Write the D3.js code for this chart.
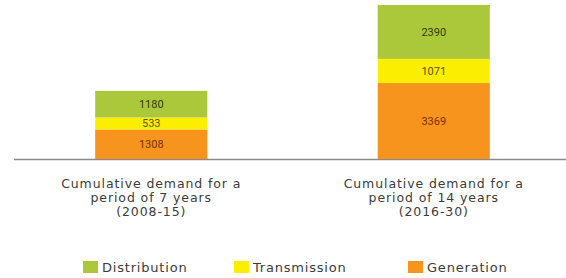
<!DOCTYPE html>
<html>
<head>
<meta charset="UTF-8">
<script src="https://cdn.jsdelivr.net/npm/d3@7"></script>
<style>
  body { margin: 0; background: #fff; }
  text { font-family: "DejaVu Sans", Roboto, sans-serif; }
  .cat { font-size: 12.5px; fill: #3c3c3c; letter-spacing: 0.9px; }
  .val { font-size: 11px; font-family: Roboto, sans-serif; }
  .leg { font-size: 13px; fill: #3c3c3c; letter-spacing: 0.8px; }
</style>
</head>
<body>
<div id="chart"></div>
<script>
// data
var categories = ["7yrs", "14yrs"];
var catLabels = [
  ["Cumulative demand for a", "period of 7 years", "(2008-15)"],
  ["Cumulative demand for a", "period of 14 years", "(2016-30)"]
];
var seriesNames = ["Generation", "Transmission", "Distribution"];
var generation = [1308, 3369];
var transmission = [533, 1071];
var distribution = [1180, 2390];
var legendOrder = ["Distribution", "Transmission", "Generation"];

var colors = { Generation: "#f7941d", Transmission: "#fcee00", Distribution: "#abc83a" };
var textColors = { Generation: "#7a2e05", Transmission: "#5c5200", Distribution: "#2f3d0c" };

var width = 566, height = 278;
var baseY = 159;

var rows = categories.map(function(c, i){
  return { cat: c, Generation: generation[i], Transmission: transmission[i], Distribution: distribution[i] };
});
var stacked = d3.stack().keys(seriesNames)(rows);

var x = d3.scaleBand().domain(categories).range([10, 575]).paddingInner(0.603).paddingOuter(0.3015);
var y = d3.scaleLinear()
  .domain([0, d3.max(rows, function(d){ return d.Generation + d.Transmission + d.Distribution; })])
  .range([baseY, 5]);

var svg = d3.select("#chart").append("svg").attr("width", width).attr("height", height);

// baseline
svg.append("line")
  .attr("x1", 14).attr("x2", width).attr("y1", baseY + 0.5).attr("y2", baseY + 0.5)
  .attr("stroke", "#8a8a8a").attr("stroke-width", 1.5);

var layer = svg.selectAll("g.layer").data(stacked).enter().append("g").attr("class", "layer");

layer.selectAll("rect").data(function(d){ return d.map(function(p){ p.key = d.key; return p; }); })
  .enter().append("rect")
  .attr("x", function(d){ return x(d.data.cat); })
  .attr("width", x.bandwidth())
  .attr("y", function(d){ return y(d[1]); })
  .attr("height", function(d){ return y(d[0]) - y(d[1]); })
  .attr("fill", function(d){ return colors[d.key]; });

layer.selectAll("text").data(function(d){ return d; })
  .enter().append("text")
  .attr("class", "val")
  .attr("x", function(d){ return x(d.data.cat) + x.bandwidth() / 2; })
  .attr("y", function(d){ return (y(d[0]) + y(d[1])) / 2; })
  .attr("dy", "0.36em")
  .attr("text-anchor", "middle")
  .attr("fill", function(d){ return textColors[d.key]; })
  .text(function(d){ return d[1] - d[0]; });

// category labels
categories.forEach(function(c, i){
  var t = svg.append("text").attr("class", "cat").attr("text-anchor", "middle");
  catLabels[i].forEach(function(line, j){
    t.append("tspan")
      .attr("x", x(c) + x.bandwidth() / 2)
      .attr("y", 188 + j * 14)
      .text(line);
  });
});

// legend
var legX = [83, 234, 408];
var leg = svg.selectAll("g.leg").data(legendOrder).enter().append("g")
  .attr("transform", function(d, i){ return "translate(" + legX[i] + ",261)"; });
leg.append("rect").attr("width", 15).attr("height", 12).attr("fill", function(d){ return colors[d]; });
leg.append("text").attr("class", "leg").attr("x", 19).attr("y", 11).text(function(d){ return d; });
</script>
</body>
</html>
